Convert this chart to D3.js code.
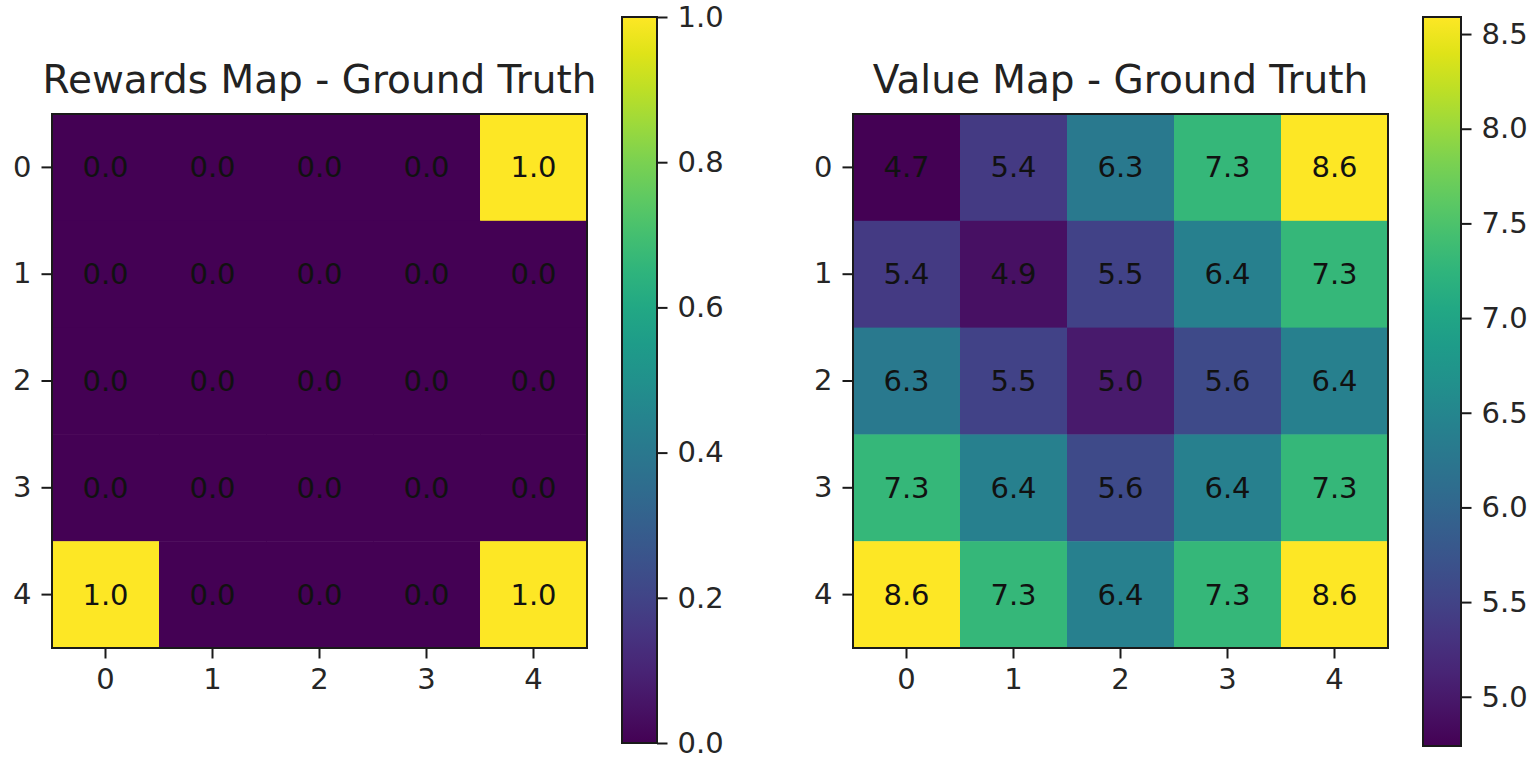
<!DOCTYPE html>
<html>
<head>
<meta charset="utf-8">
<script src="https://cdn.jsdelivr.net/npm/d3@7"></script>
<style>
  html, body { margin: 0; padding: 0; background: #fff; }
  svg { display: block; }
  text { font-family: "DejaVu Sans", sans-serif; }
</style>
</head>
<body>
<svg id="chart" width="1536" height="758"></svg>
<script>
// ---- data ----
const rowLabels = [0, 1, 2, 3, 4];
const colLabels = [0, 1, 2, 3, 4];
const rewardsTitle = "Rewards Map - Ground Truth";
const valueTitle = "Value Map - Ground Truth";
const rewardsGrid = [
  [0.0, 0.0, 0.0, 0.0, 1.0],
  [0.0, 0.0, 0.0, 0.0, 0.0],
  [0.0, 0.0, 0.0, 0.0, 0.0],
  [0.0, 0.0, 0.0, 0.0, 0.0],
  [1.0, 0.0, 0.0, 0.0, 1.0]
];
const valueGrid = [
  [4.74, 5.4, 6.3, 7.3, 8.59],
  [5.4, 4.9, 5.5, 6.4, 7.3],
  [6.3, 5.5, 5.0, 5.6, 6.4],
  [7.3, 6.4, 5.6, 6.4, 7.3],
  [8.59, 7.3, 6.4, 7.3, 8.59]
];
const rewardsTicks = [0.0, 0.2, 0.4, 0.6, 0.8, 1.0];
const valueTicks = [5.0, 5.5, 6.0, 6.5, 7.0, 7.5, 8.0, 8.5];

const svg = d3.select("#chart");
const FONT_TICK = 29;
const FONT_TITLE = 39;
const TICK_LEN = 10.5;
const TICK_PAD = 10;
const STROKE = "#1a1a1a";

function panel(opts) {
  const { grid, title, ticks, x0, x1, y0, y1, cbx0, cbx1, cby0, cby1, id } = opts;
  const flat = grid.flat();
  const vmin = d3.min(flat), vmax = d3.max(flat);
  const color = d3.scaleSequential(d3.interpolateViridis).domain([vmin, vmax]);

  const x = d3.scaleBand().domain(colLabels).range([x0, x1]).padding(0);
  const y = d3.scaleBand().domain(rowLabels).range([y0, y1]).padding(0);

  const g = svg.append("g");
  const cells = [];
  grid.forEach((row, r) => row.forEach((v, c) => cells.push({ r, c, v })));

  g.selectAll("rect.cell").data(cells).enter().append("rect")
    .attr("class", "cell")
    .attr("x", d => x(colLabels[d.c]))
    .attr("y", d => y(rowLabels[d.r]))
    .attr("width", x.bandwidth() + 0.5)
    .attr("height", y.bandwidth() + 0.5)
    .attr("fill", d => color(d.v));

  g.selectAll("text.ann").data(cells).enter().append("text")
    .attr("class", "ann")
    .attr("x", d => x(colLabels[d.c]) + x.bandwidth() / 2)
    .attr("y", d => y(rowLabels[d.r]) + y.bandwidth() / 2)
    .attr("text-anchor", "middle")
    .attr("dominant-baseline", "central")
    .attr("font-size", FONT_TICK)
    .attr("fill", "#111")
    .text(d => d3.format(".1f")(d.v));

  // frame
  g.append("rect")
    .attr("x", x0).attr("y", y0)
    .attr("width", x1 - x0).attr("height", y1 - y0)
    .attr("fill", "none").attr("stroke", STROKE).attr("stroke-width", 2);

  // axes
  const ax = g.append("g").attr("transform", `translate(0,${y1})`)
    .call(d3.axisBottom(x).tickSize(TICK_LEN).tickPadding(TICK_PAD));
  const ay = g.append("g").attr("transform", `translate(${x0},0)`)
    .call(d3.axisLeft(y).tickSize(TICK_LEN).tickPadding(TICK_PAD));
  [ax, ay].forEach(a => {
    a.select(".domain").remove();
    a.selectAll("line").attr("stroke", STROKE).attr("stroke-width", 2);
    a.selectAll("text").attr("font-size", FONT_TICK).attr("fill", "#262626")
      .attr("font-family", "DejaVu Sans, sans-serif");
  });

  // title
  g.append("text")
    .attr("x", (x0 + x1) / 2).attr("y", y0 - 21)
    .attr("text-anchor", "middle")
    .attr("font-size", FONT_TITLE).attr("fill", "#222")
    .text(title);

  // colorbar
  const defs = svg.append("defs");
  const grad = defs.append("linearGradient").attr("id", id)
    .attr("x1", "0").attr("y1", "1").attr("x2", "0").attr("y2", "0");
  d3.range(0, 1.0001, 0.05).forEach(t => {
    grad.append("stop").attr("offset", t).attr("stop-color", d3.interpolateViridis(t));
  });
  const cs = d3.scaleLinear().domain([vmin, vmax]).range([cby1, cby0]);
  g.append("rect")
    .attr("x", cbx0).attr("y", cby0)
    .attr("width", cbx1 - cbx0).attr("height", cby1 - cby0)
    .attr("fill", `url(#${id})`)
    .attr("stroke", STROKE).attr("stroke-width", 2);
  const ac = g.append("g").attr("transform", `translate(${cbx1},0)`)
    .call(d3.axisRight(cs).tickValues(ticks).tickFormat(d3.format(".1f"))
      .tickSize(TICK_LEN).tickPadding(TICK_PAD));
  ac.select(".domain").remove();
  ac.selectAll("line").attr("stroke", STROKE).attr("stroke-width", 2);
  ac.selectAll("text").attr("font-size", FONT_TICK).attr("fill", "#262626")
    .attr("font-family", "DejaVu Sans, sans-serif");
}

panel({
  grid: rewardsGrid, title: rewardsTitle, ticks: rewardsTicks, id: "gradR",
  x0: 52, x1: 587, y0: 114, y1: 648,
  cbx0: 622, cbx1: 657, cby0: 17, cby1: 743
});
panel({
  grid: valueGrid, title: valueTitle, ticks: valueTicks, id: "gradV",
  x0: 853, x1: 1388, y0: 114, y1: 648,
  cbx0: 1423, cbx1: 1461, cby0: 17, cby1: 746
});
</script>
</body>
</html>
